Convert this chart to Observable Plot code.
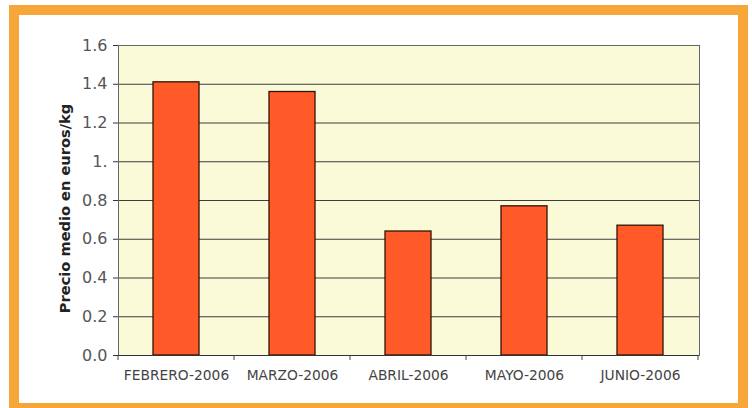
<!DOCTYPE html>
<html>
<head>
<meta charset="utf-8">
<script src="https://cdn.jsdelivr.net/npm/d3@7"></script>
<script src="https://cdn.jsdelivr.net/npm/@observablehq/plot@0.6"></script>
<style>
  html, body { margin: 0; padding: 0; background: #ffffff; width: 752px; height: 408px; overflow: hidden; }
  #frame { position: absolute; left: 9px; top: 5px; width: 719px; height: 388px; border: 10px solid #F7A63A; box-sizing: content-box; }
  #chart { position: absolute; left: 0; top: 0; }
</style>
</head>
<body>
<div id="frame"></div>
<div id="chart"></div>
<script>
const months = ["FEBRERO-2006", "MARZO-2006", "ABRIL-2006", "MAYO-2006", "JUNIO-2006"];
const prices = [1.41, 1.36, 0.64, 0.77, 0.67];
const yTicks = [0, 0.2, 0.4, 0.6, 0.8, 1, 1.2, 1.4, 1.6];
const yTickLabels = ["0.0", "0.2", "0.4", "0.6", "0.8", "1.", "1.2", "1.4", "1.6"];
const yLabel = "Precio medio en euros/kg";

const data = months.map((m, i) => ({month: m, price: prices[i]}));
const font = "'DejaVu Sans', Verdana, sans-serif";

// tick marks at the band boundaries of the x scale
function bandBoundaryTicks(index, scales, values, dimensions) {
  const x = scales.x, y = scales.y;
  const step = x.step(), bw = x.bandwidth();
  const pos = months.map(m => x(m) + bw / 2 - step / 2);
  pos.push(x(months[months.length - 1]) + bw / 2 + step / 2);
  const y0 = y(0);
  const g = d3.create("svg:g").attr("stroke", "#444").attr("stroke-width", 1);
  for (const p of pos) {
    g.append("line").attr("x1", p).attr("x2", p).attr("y1", y0).attr("y2", y0 + 5);
  }
  return g.node();
}

const plot = Plot.plot({
  width: 752,
  height: 408,
  marginLeft: 118,
  marginRight: 53,
  marginTop: 45,
  marginBottom: 53,
  style: {background: "transparent", fontFamily: font},
  x: {domain: months, paddingInner: 0.6, paddingOuter: 0.3, align: 0.5},
  y: {domain: [0, 1.6]},
  marks: [
    Plot.frame({fill: "#FAFAD8", stroke: "none"}),
    Plot.ruleY(yTicks, {stroke: "#3d3d3d", strokeWidth: 1}),
    Plot.frame({stroke: "#666", strokeWidth: 1}),
    Plot.barY(data, {x: "month", y: "price", fill: "#FF5A28", stroke: "#2e1405", strokeWidth: 1.3}),
    Plot.ruleY([0], {stroke: "#333", strokeWidth: 1}),
    bandBoundaryTicks,
    Plot.axisY({
      ticks: yTicks,
      tickFormat: (d) => yTickLabels[yTicks.indexOf(d)],
      tickSize: 5,
      tickPadding: 6,
      fontSize: 16,
      color: "#555",
      stroke: "#333",
      label: null
    }),
    Plot.axisX({
      tickSize: 0,
      tickPadding: 15,
      fontSize: 13.8,
      color: "#444",
      label: null
    }),
    Plot.text([yLabel], {
      frameAnchor: "left",
      textAnchor: "middle",
      rotate: -90,
      dx: -53,
      dy: 8,
      fontSize: 14.6,
      fontWeight: "bold",
      fill: "#222",
      text: d => d
    })
  ]
});
document.getElementById("chart").appendChild(plot);
</script>
</body>
</html>
